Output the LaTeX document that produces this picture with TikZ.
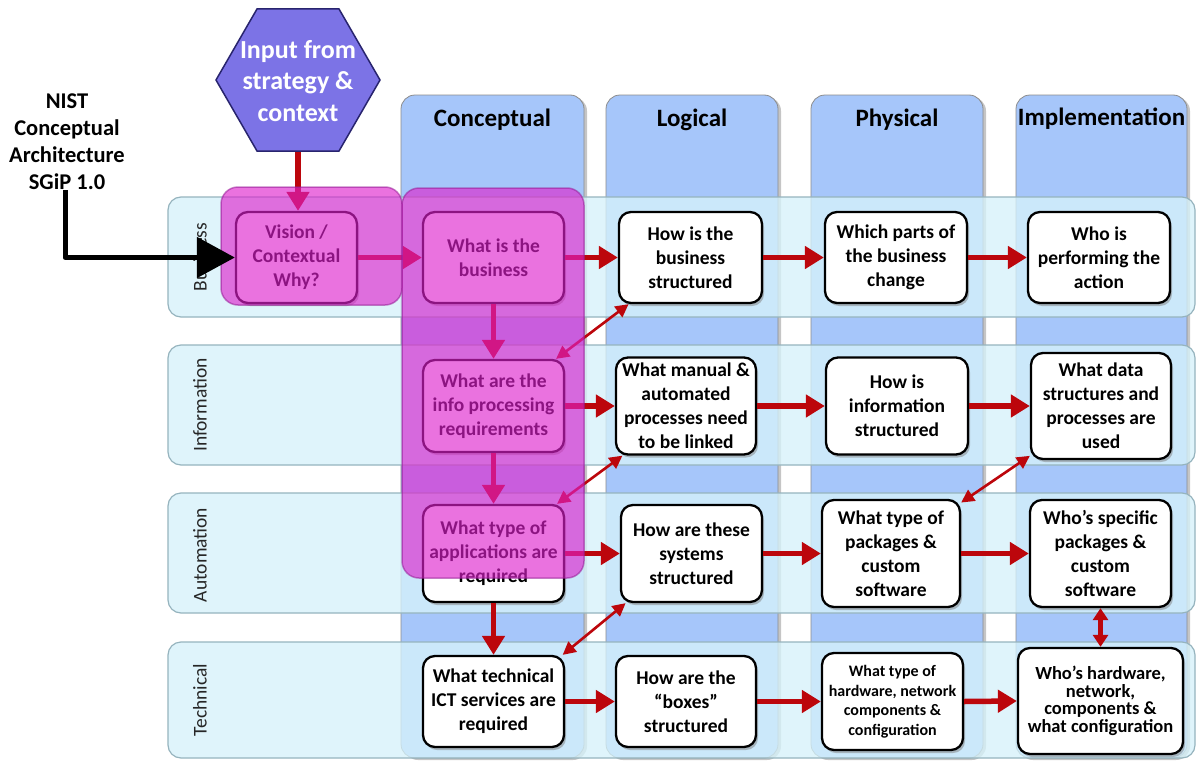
\documentclass[tikz,border=0pt]{standalone}
\usepackage{fontspec}
\setmainfont{Carlito}
\usetikzlibrary{arrows.meta,shapes.geometric,shadows}
\definecolor{colblue}{RGB}{166,198,250}
\definecolor{bandfill}{RGB}{214,242,250}
\definecolor{bandline}{RGB}{150,180,190}
\definecolor{arrred}{RGB}{188,6,12}
\definecolor{ovl}{RGB}{222,32,205}
\definecolor{ovlline}{RGB}{150,30,150}
\definecolor{hexfill}{RGB}{124,115,230}
\definecolor{hexline}{RGB}{40,36,110}
\tikzset{
 colband/.style={fill=colblue, draw=black!45, line width=0.8pt, rounded corners=14pt,
   drop shadow={shadow xshift=3pt, shadow yshift=-2pt, opacity=.45}},
 rowband/.style={fill=bandfill, fill opacity=.78, draw=bandline, line width=1.2pt, rounded corners=13pt},
 colhead/.style={font=\fontsize{25}{30}\selectfont\bfseries, anchor=base, inner sep=0pt},
 rowlab/.style={font=\fontsize{19.5}{24}\selectfont, rotate=90, inner sep=0pt, text=black!85},
 wbox/.style={draw=black, line width=2.3pt, fill=white, rounded corners=12pt, align=center,
   inner sep=1pt, font=\fontsize{19.5}{24}\selectfont\bfseries,
   drop shadow={shadow xshift=2pt, shadow yshift=-3pt, opacity=.5}},
 redarr/.style={draw=arrred, line width=5.5pt, -{Triangle[length=19pt,width=22pt]}},
 dblarr/.style={draw=arrred, line width=2.6pt, {Triangle[length=13pt,width=13pt]}-{Triangle[length=13pt,width=13pt]}},
 vdblarr/.style={draw=arrred, line width=4.5pt, {Triangle[length=12pt,width=15pt]}-{Triangle[length=12pt,width=15pt]}},
 blkarr/.style={draw=black, line width=5pt, line join=round, -{Triangle[length=38pt,width=40pt]}},
 overlay/.style={fill=ovl, fill opacity=.63, draw=ovlline, draw opacity=.55, line width=1.5pt, rounded corners=17pt},
 hexa/.style={regular polygon, regular polygon sides=6, minimum size=164pt, inner sep=0pt,
   fill=hexfill, draw=hexline, line width=1.5pt},
 hextext/.style={align=center, text=white, font=\fontsize{26}{31.5}\selectfont\bfseries, inner sep=0pt},
 nisttext/.style={align=center, font=\fontsize{22.5}{27}\selectfont\bfseries, inner sep=0pt}
}
\begin{document}
\begin{tikzpicture}[x=1pt,y=-1pt]
\useasboundingbox (0,0) rectangle (1196,760);
\fill[white] (0,0) rectangle (1196,760);
% columns
\path[colband] (401,95) rectangle (584,758);
\path[colband] (606,95) rectangle (778,758);
\path[colband] (811,95) rectangle (983,758);
\path[colband] (1016,95) rectangle (1187,758);
% row bands
\path[rowband] (168,197) rectangle (1195,317);
\path[rowband] (168,345) rectangle (1195,465);
\path[rowband] (168,493) rectangle (1195,613);
\path[rowband] (168,642) rectangle (1195,758);
% headers
\node[colhead] (hc) at (492.5,126) {Conceptual};
\node[colhead] (hl) at (692,126) {Logical};
\node[colhead] (hp) at (897,126) {Physical};
\node[colhead] (hi) at (1101.5,125) {Implementation};
% row labels
\node[rowlab] (lbus) at (200,257) {Business};
\node[rowlab] (linf) at (200,405) {Information};
\node[rowlab] (laut) at (200,555) {Automation};
\node[rowlab] (ltec) at (200,700) {Technical};
% hexagon
\node[hexa] (input) at (298,80) {};
\node[hextext] (inputtext) at (298,81) {Input from\\strategy \&\\context};
% boxes - business
\node[wbox, minimum width=121pt, minimum height=91pt] (vis) at (296.5,257.5) {Vision /\\Contextual\\Why?};
\node[wbox, minimum width=141pt, minimum height=91pt] (cb) at (493.5,257.5) {What is the\\business};
\node[wbox, minimum width=143pt, minimum height=91pt] (lb) at (690.5,257.5) {How is the\\business\\structured};
\node[wbox, minimum width=142pt, minimum height=91pt] (pb) at (896,257.5) {Which parts of\\the business\\change};
\node[wbox, minimum width=142pt, minimum height=91pt] (ib) at (1099,257.5) {Who is\\performing the\\action};
% information
\node[wbox, minimum width=141pt, minimum height=92pt] (ci) at (493.5,406) {What are the\\info processing\\requirements};
\node[wbox, minimum width=140pt, minimum height=97pt] (li) at (686,406) {What manual \&\\automated\\processes need\\to be linked};
\node[wbox, minimum width=142pt, minimum height=97pt] (pi) at (897,406) {How is\\information\\structured};
\node[wbox, minimum width=140pt, minimum height=106pt] (ii) at (1101,406) {What data\\structures and\\processes are\\used};
% automation
\node[wbox, minimum width=141pt, minimum height=97pt] (ca) at (493.5,553.5) {What type of\\applications are\\required};
\node[wbox, minimum width=141pt, minimum height=97pt] (la) at (691.5,553.5) {How are these\\systems\\structured};
\node[wbox, minimum width=138pt, minimum height=107pt] (pa) at (891,553.5) {What type of\\packages \&\\custom\\software};
\node[wbox, minimum width=141pt, minimum height=107pt] (ia) at (1100.5,553.5) {Who’s specific\\packages \&\\custom\\software};
% technical
\node[wbox, minimum width=141pt, minimum height=91pt] (ct) at (493.5,701.5) {What technical\\ICT services are\\required};
\node[wbox, minimum width=140pt, minimum height=91pt] (lt) at (686,701.5) {How are the\\“boxes”\\structured};
\node[wbox, minimum width=141pt, minimum height=97pt, font=\fontsize{16}{19.5}\selectfont\bfseries] (pt) at (892.5,701.5) {What type of\\hardware, network\\components \&\\configuration};
\node[wbox, minimum width=165pt, minimum height=106pt, font=\fontsize{18.5}{17.5}\selectfont\bfseries] (it) at (1100.5,701) {Who’s hardware,\\network,\\components \&\\what configuration};
% red arrows
\draw[redarr] (input.south) -- (input.south |- vis.north);
\draw[redarr] (vis.east) -- (cb.west);
\draw[redarr] (cb.east) -- (lb.west);
\draw[redarr] (lb.east) -- (pb.west);
\draw[redarr] (pb.east) -- (ib.west);
\draw[redarr] (ci.east) -- (li.west);
\draw[redarr] (li.east) -- (pi.west);
\draw[redarr] (pi.east) -- (ii.west);
\draw[redarr] (ca.east) -- (la.west);
\draw[redarr] (la.east) -- (pa.west);
\draw[redarr] (pa.east) -- (ia.west);
\draw[redarr] (ct.east) -- (lt.west);
\draw[redarr] (lt.east) -- (pt.west);
\draw[redarr] (pt.east) -- (it.west);
\draw[redarr] (cb.south) -- (ci.north);
\draw[redarr] (ci.south) -- (ca.north);
\draw[redarr] (ca.south) -- (ct.north);
\draw[dblarr] (ci.37) -- (lb.217);
\draw[dblarr] (ca.38) -- (li.218);
\draw[dblarr] (ct.34) -- (la.217);
\draw[dblarr] (pa.36) -- (ii.215);
\draw[vdblarr] (ia.south) -- (ia.south |- it.north);
% pink overlays
\path[overlay] (221,187) rectangle (402,305);
\path[overlay] (402,188) rectangle (584,578);
% NIST
\node[nisttext] (nist) at (67,142) {NIST\\Conceptual\\Architecture\\SGiP 1.0};
\coordinate (nistfoot) at (65,190);
\draw[blkarr] (nistfoot) |- (vis.west);
\end{tikzpicture}
\end{document}
